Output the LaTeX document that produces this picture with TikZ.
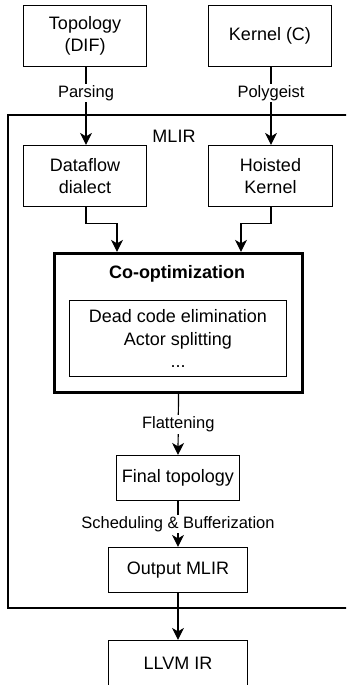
\documentclass[tikz,border=0pt]{standalone}
\usepackage{fontspec}
\setmainfont{Liberation Sans}
\usetikzlibrary{arrows.meta}

\begin{document}
\begin{tikzpicture}[x=1pt,y=-1pt,
	box/.style={draw,line width=1.2pt,align=center,inner sep=0pt,
		font=\fontsize{18}{22.5}\selectfont},
	txt/.style={font=\fontsize{18}{22.5}\selectfont},
	lbl/.style={fill=white,inner sep=1.5pt,font=\fontsize{16.5}{20}\selectfont},
	flow/.style={line width=1.2pt,arrows={-Stealth[length=12pt,width=12pt,inset=3.5pt]}}]
	\useasboundingbox (0,0) rectangle (346,685);
	\clip (0,0) rectangle (346,685);

	% MLIR frame
	\draw[line width=1.2pt] (8,115) rectangle (400,608);
	\node[txt] (mlirlbl) at (174,136) {MLIR};

	% inputs
	\node[box,minimum width=123pt,minimum height=61pt] (topo) at (85,36) {Topology\\(DIF)};
	\node[box,minimum width=123pt,minimum height=61pt] (kern) at (270,36) {Kernel (C)};

	\node[box,minimum width=123pt,minimum height=61pt] (dfl) at (85,176) {Dataflow\\dialect};
	\node[box,minimum width=124pt,minimum height=61pt] (hoist) at (270.5,176) {Hoisted\\Kernel};

	% co-optimization
	\node[draw,line width=3.3pt,minimum width=248pt,minimum height=139pt] (coopt) at (178.5,323) {};
	\node[txt,font=\fontsize{18}{22.5}\selectfont\bfseries] (cotitle) at (177,274) {Co-optimization};
	\node[box,minimum width=217pt,minimum height=76pt] (passes) at (178,338.5)
	{Dead code elimination\\Actor splitting\\...};

	\node[box,minimum width=123pt,minimum height=45pt] (fin) at (178,478) {Final topology};
	\node[box,minimum width=139pt,minimum height=45pt] (outm) at (178,570) {Output MLIR};
	\node[box,minimum width=139pt,minimum height=45pt] (llvm) at (178,663) {LLVM IR};

	% connectors
	\draw[flow] ([xshift=1pt]topo.south) -- node[lbl,pos=0.33] {Parsing} ([xshift=1pt]dfl.north);
	\draw[flow] ([xshift=1pt]kern.south) -- node[lbl,pos=0.33] {Polygeist} ([xshift=0.5pt]hoist.north);
	\draw[flow] ([xshift=1pt]dfl.south) -- ++(0,16) -| ([xshift=-61.5pt]coopt.north);
	\draw[flow] ([xshift=0.5pt]hoist.south) -- ++(0,16) -| ([xshift=62.5pt]coopt.north);
	\draw[flow] (coopt.south) -- node[lbl] {Flattening} (fin.north);
	\draw[flow] (fin.south) -- node[lbl] {Scheduling \& Bufferization} (outm.north);
	\draw[flow] (outm.south) -- (llvm.north);
\end{tikzpicture}
\end{document}
